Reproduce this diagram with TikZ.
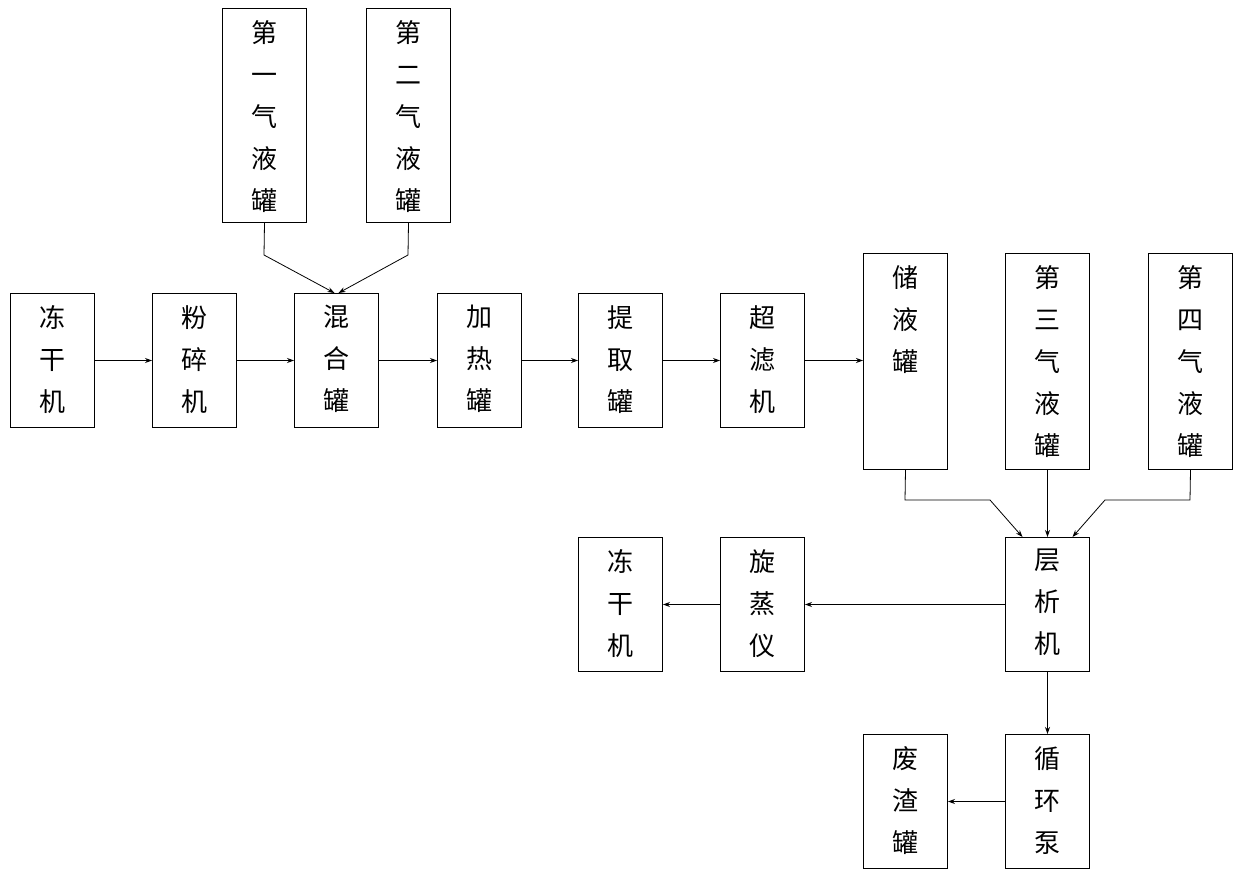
\documentclass[tikz,border=0pt]{standalone}
\usepackage{fontspec}
\newfontfamily\cjk{Noto Sans CJK SC}
\usetikzlibrary{arrows.meta}
\begin{document}
\begin{tikzpicture}[x=1pt,y=-1pt,
  box/.style={draw,line width=1pt,inner sep=0,anchor=north west},
  txt/.style={anchor=north,font=\cjk\fontsize{26}{42}\selectfont,align=center,inner sep=0},
  arr/.style={-{Stealth[length=7pt,width=5pt]},line width=0.8pt}]
\useasboundingbox (0,0) rectangle (1240,877);
\newcommand\bx[6]{% name x1 y1 x2 y2 text
  \node[box,minimum width=#4-#2,minimum height=#5-#3] (#1) at (#2,#3) {};
  \node[txt] (#1t) at ([yshift=-12pt]#1.north) {#6};}
\bx{a}{10}{293}{94}{427}{冻\\干\\机}
\bx{b}{152}{293}{236}{427}{粉\\碎\\机}
\bx{c}{294}{293}{378}{427}{混\\合\\罐}
\bx{d}{437}{293}{521}{427}{加\\热\\罐}
\bx{e}{578}{293}{662}{427}{提\\取\\罐}
\bx{f}{720}{293}{804}{427}{超\\滤\\机}
\bx{g1}{222}{8}{306}{222}{第\\一\\气\\液\\罐}
\bx{g2}{366}{8}{450}{222}{第\\二\\气\\液\\罐}
\bx{s}{863}{253}{947}{469}{储\\液\\罐}
\bx{g3}{1005}{253}{1089}{469}{第\\三\\气\\液\\罐}
\bx{g4}{1148}{253}{1232}{469}{第\\四\\气\\液\\罐}
\bx{h}{1005}{537}{1089}{671}{层\\析\\机}
\bx{r}{720}{537}{804}{671}{旋\\蒸\\仪}
\bx{a2}{578}{537}{662}{671}{冻\\干\\机}
\bx{p}{1005}{734}{1089}{868}{循\\环\\泵}
\bx{w}{863}{734}{947}{868}{废\\渣\\罐}
\draw[arr] (a) -- (b);
\draw[arr] (b) -- (c);
\draw[arr] (c) -- (d);
\draw[arr] (d) -- (e);
\draw[arr] (e) -- (f);
\draw[arr] (f) -- (s.west |- f.east);
\coordinate (c1) at (264,255);
\coordinate (c2) at (408,255);
\draw[arr] (g1.south) -- (c1) -- ([xshift=-2pt]c.north);
\draw[arr] (g2.south) -- (c2) -- ([xshift=2pt]c.north);
\coordinate (k1) at (905,500);
\coordinate (k2) at (990,500);
\coordinate (k3) at (1190,500);
\coordinate (k4) at (1105,500);
\draw[arr] (s.south) -- (k1) -- (k2) -- ([xshift=-25pt]h.north);
\draw[arr] (g3.south) -- (h.north);
\draw[arr] (g4.south) -- (k3) -- (k4) -- ([xshift=25pt]h.north);
\draw[arr] (h) -- (r);
\draw[arr] (r) -- (a2);
\draw[arr] (h) -- (p);
\draw[arr] (p) -- (w);
\end{tikzpicture}
\end{document}
